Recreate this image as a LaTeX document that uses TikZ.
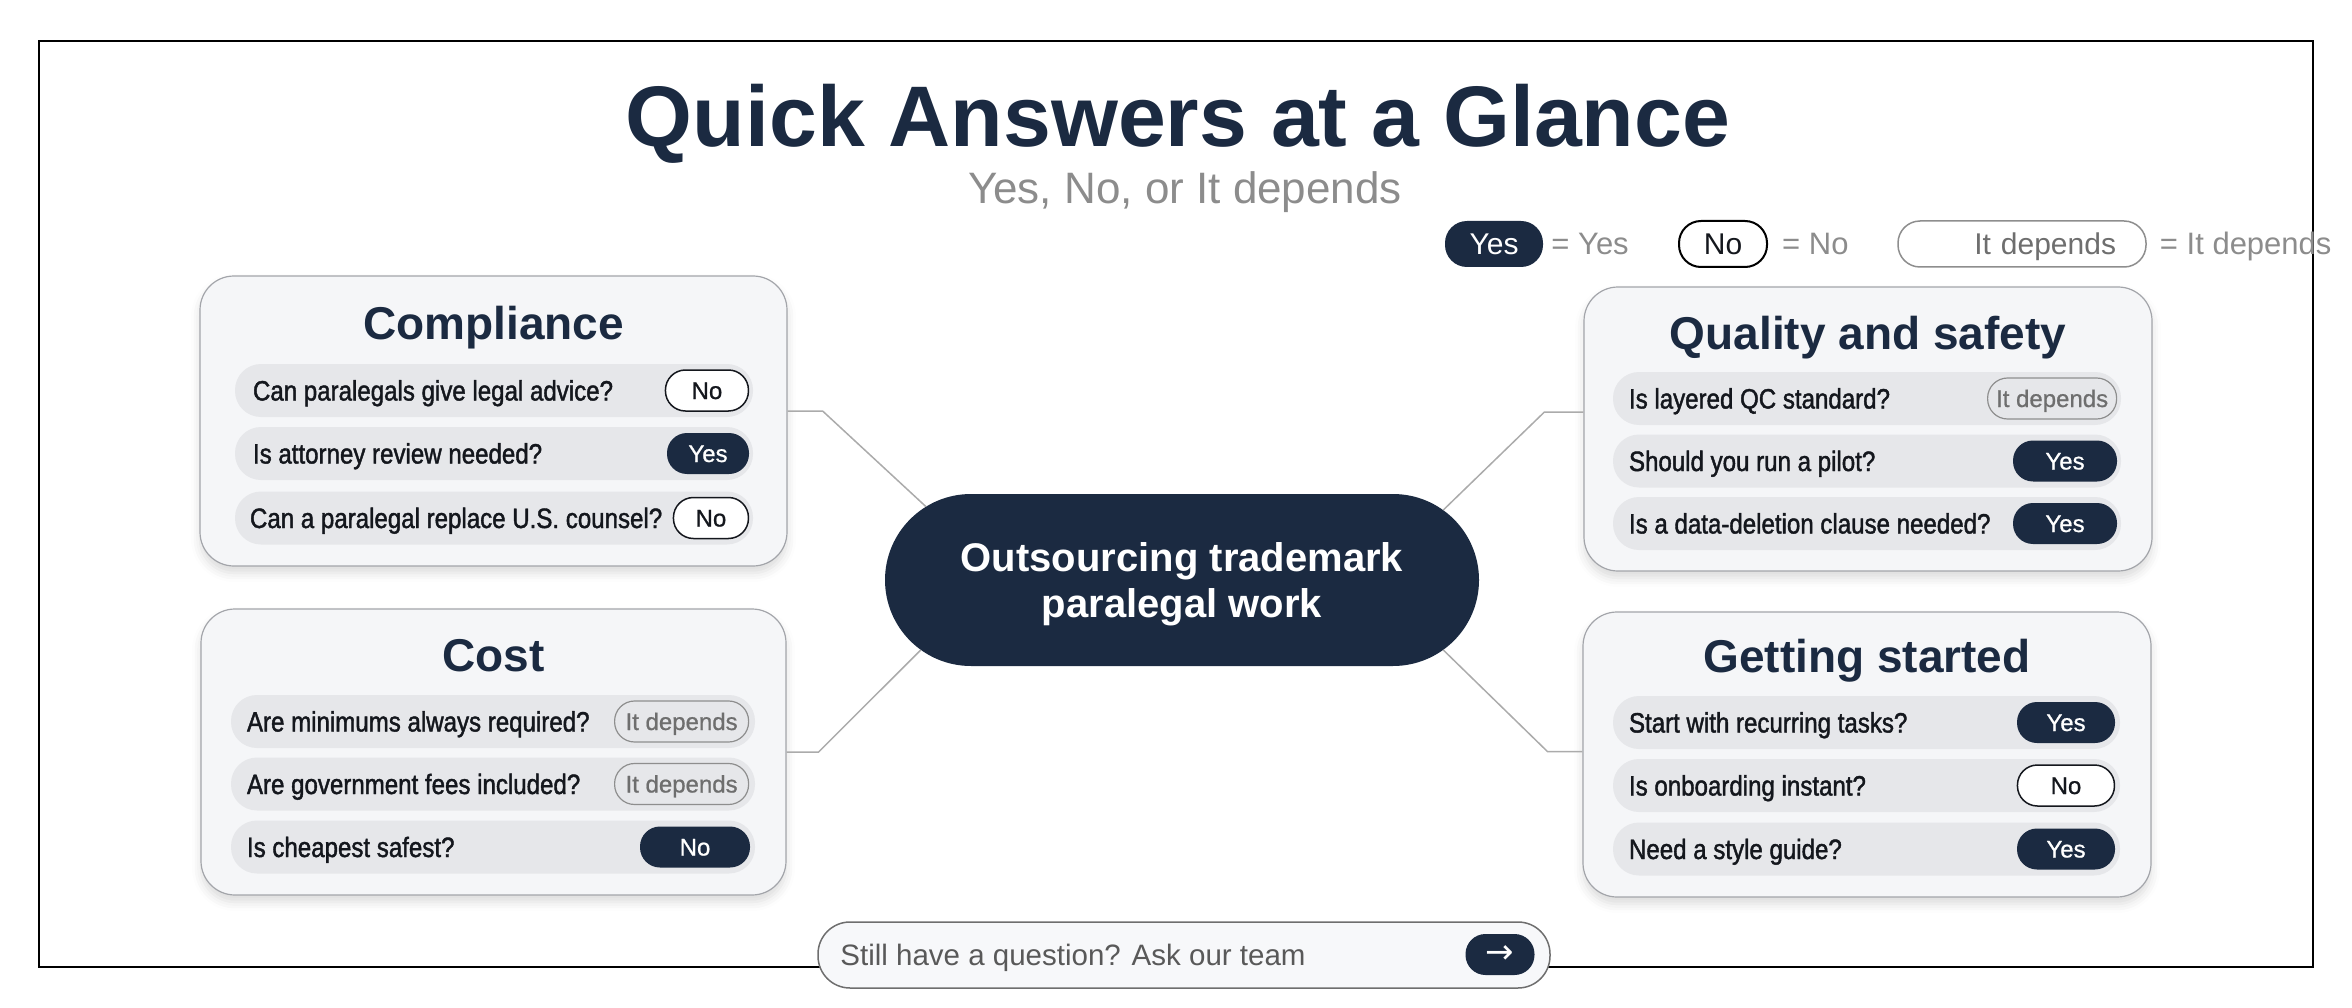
\documentclass[tikz,border=0pt]{standalone}
\usepackage{fontspec}
\setmainfont{Liberation Sans}
\newfontfamily\qfont{Liberation Sans}[FakeStretch=0.86,FakeBold=1.5]
\newfontfamily\afont{Liberation Sans}[FakeBold=0.8]
\newfontfamily\arrowfont{DejaVu Sans}
\usepackage{xcolor}
\definecolor{colNavy}{HTML}{1B2A41}
\definecolor{colCard}{HTML}{F5F6F8}
\definecolor{colCardLine}{HTML}{A3A5AA}
\definecolor{colRow}{HTML}{E6E7EA}
\definecolor{colGrayText}{HTML}{8C8C8C}
\definecolor{colDepText}{HTML}{6E6E6E}
\definecolor{colDepLine}{HTML}{8E8E8E}
\definecolor{colQText}{HTML}{14171D}
\definecolor{colLink}{HTML}{ABABAB}
\definecolor{colAsk}{HTML}{F7F8FA}
\definecolor{colAskText}{HTML}{595959}
\usepackage{tikz}
\usetikzlibrary{arrows.meta, positioning, calc, shapes.misc, shadows.blur}

\begin{document}
\begin{tikzpicture}[x=1pt, y=-1pt,
    card/.style={draw=colCardLine, line width=1.2pt, fill=colCard, rounded corners=34pt,
      blur shadow={shadow xshift=0pt, shadow yshift=-7pt, shadow blur radius=9pt, shadow opacity=14}},
    cardtitle/.style={font=\bfseries\fontsize{46}{50}\selectfont, text=colNavy, anchor=base, inner sep=0pt},
    row/.style={fill=colRow, rounded corners=26pt, minimum height=53pt, minimum width=#1, inner sep=0pt},
    question/.style={font=\qfont\fontsize{28}{30}\selectfont, text=colQText, anchor=base west, inner sep=0pt},
    answer/.style={rounded corners=20pt, minimum height=41pt, minimum width=#1, inner xsep=0pt,
      text height=17pt, text depth=0pt, anchor=east, font=\afont\fontsize{24}{26}\selectfont},
    ansyes/.style={answer=#1, fill=colNavy, text=white},
    ansno/.style={answer=#1, draw=colQText, line width=1.5pt, fill=white, text=colQText},
    ansnofill/.style={answer=#1, fill=colNavy, text=white},
    ansdep/.style={answer=#1, draw=colDepLine, line width=1.2pt, text=colDepText},
    legpill/.style={rounded corners=22pt, minimum height=46pt, inner xsep=0pt,
      text height=21pt, text depth=0pt, font=\fontsize{30}{32}\selectfont},
    legtext/.style={font=\fontsize{31}{33}\selectfont, text=colGrayText, anchor=base west, inner sep=0pt},
    link/.style={draw=colLink, line width=1.5pt},
    frame/.style={draw=black, line width=2pt}
  ]
  \useasboundingbox (0,0) rectangle (2352,1008);
  \draw[frame] (39,41) rectangle (2313,967);

  % heading and legend
  \node[font=\bfseries\fontsize{86}{90}\selectfont, text=colNavy, anchor=base, inner sep=0pt] (title) at (1178,147) {Quick Answers at a Glance};
  \node[font=\fontsize{44}{48}\selectfont, text=colGrayText, anchor=base, inner sep=0pt] (subtitle) at (1185,204) {Yes, No, or It depends};
  \node[legpill, fill=colNavy, text=white, minimum width=98pt] (leg-yes) at (1494,244) {Yes};
  \node[legtext] (leg-yes-t) at ([xshift=8pt,yshift=-11pt]leg-yes.east) {= Yes};
  \node[legpill, draw=black, line width=2pt, text=colQText, minimum width=88pt] (leg-no) at (1723,244) {No};
  \node[legtext] (leg-no-t) at ([xshift=14pt,yshift=-11pt]leg-no.east) {= No};
  \node[legpill, draw=colDepLine, line width=1.5pt, text=colDepText, inner xsep=30pt, text width=188pt, align=right] (leg-dep) at (2022,244) {It depends};
  \node[legtext] (leg-dep-t) at ([xshift=13pt,yshift=-11pt]leg-dep.east) {= It depends};

  % central topic
  \node[rounded rectangle, fill=colNavy, minimum width=594pt, minimum height=172pt, inner sep=0pt] (hub) at (1182,580) {};
  \node[font=\bfseries\fontsize{40}{46}\selectfont, text=white, align=center] (hub-t) at ([yshift=-4pt]hub.center) {Outsourcing trademark\\paralegal work};

  % cards
  \node[card, minimum width=587pt, minimum height=290pt] (comp) at (493.5,421) {};
  \node[card, minimum width=585pt, minimum height=286pt] (cost) at (493.5,752) {};
  \node[card, minimum width=568pt, minimum height=284pt] (qual) at (1868,429) {};
  \node[card, minimum width=568pt, minimum height=285pt] (start) at (1867,754.5) {};

  \draw[link] ([yshift=10pt]comp.east) -- ++(35,0) -- (hub.164);
  \draw[link] (cost.east) -- ++(32,0) -- (hub.195);
  \draw[link] ([yshift=17pt]qual.west) -- ++(-39,0) -- (hub.15);
  \draw[link] ([yshift=3pt]start.west) -- ++(-35,0) -- (hub.345);

  % Compliance
  \node[cardtitle] (comp-t) at ([yshift=-64pt]comp.north) {Compliance};
  \node[row=518pt] (comp-1) at (494,390.5) {};
  \node[row=518pt] (comp-2) at (494,453.5) {};
  \node[row=518pt] (comp-3) at (494,518) {};
  \node[question] (comp-1q) at ([xshift=18pt,yshift=-10pt]comp-1.west) {Can paralegals give legal advice?};
  \node[question] (comp-2q) at ([xshift=18pt,yshift=-10pt]comp-2.west) {Is attorney review needed?};
  \node[question] (comp-3q) at ([xshift=15pt,yshift=-10pt]comp-3.west) {Can a paralegal replace U.S. counsel?};
  \node[ansno=83pt] (comp-1a) at ([xshift=-4pt]comp-1.east) {No};
  \node[ansyes=82pt] (comp-2a) at ([xshift=-4pt]comp-2.east) {Yes};
  \node[ansno=75pt] (comp-3a) at ([xshift=-4pt]comp-3.east) {No};

  % Cost
  \node[cardtitle] (cost-t) at ([yshift=-63pt]cost.north) {Cost};
  \node[row=524pt] (cost-1) at (493,721.5) {};
  \node[row=524pt] (cost-2) at (493,784) {};
  \node[row=524pt] (cost-3) at (493,847) {};
  \node[question] (cost-1q) at ([xshift=16pt,yshift=-10pt]cost-1.west) {Are minimums always required?};
  \node[question] (cost-2q) at ([xshift=16pt,yshift=-10pt]cost-2.west) {Are government fees included?};
  \node[question] (cost-3q) at ([xshift=16pt,yshift=-10pt]cost-3.west) {Is cheapest safest?};
  \node[ansdep=134pt] (cost-1a) at ([xshift=-6pt]cost-1.east) {It depends};
  \node[ansdep=134pt] (cost-2a) at ([xshift=-6pt]cost-2.east) {It depends};
  \node[ansnofill=110pt] (cost-3a) at ([xshift=-5pt]cost-3.east) {No};

  % Quality and safety
  \node[cardtitle] (qual-t) at ([yshift=-63pt]qual.north) {Quality and safety};
  \node[row=508pt] (qual-1) at (1867,398.5) {};
  \node[row=508pt] (qual-2) at (1867,461) {};
  \node[row=508pt] (qual-3) at (1867,523.5) {};
  \node[question] (qual-1q) at ([xshift=16pt,yshift=-10pt]qual-1.west) {Is layered QC standard?};
  \node[question] (qual-2q) at ([xshift=16pt,yshift=-10pt]qual-2.west) {Should you run a pilot?};
  \node[question] (qual-3q) at ([xshift=16pt,yshift=-10pt]qual-3.west) {Is a data-deletion clause needed?};
  \node[ansdep=129pt] (qual-1a) at ([xshift=-4pt]qual-1.east) {It depends};
  \node[ansyes=104pt] (qual-2a) at ([xshift=-4pt]qual-2.east) {Yes};
  \node[ansyes=104pt] (qual-3a) at ([xshift=-4pt]qual-3.east) {Yes};

  % Getting started
  \node[cardtitle] (start-t) at ([yshift=-61pt]start.north) {Getting started};
  \node[row=507pt] (start-1) at (1866.5,722.5) {};
  \node[row=507pt] (start-2) at (1866.5,785.5) {};
  \node[row=507pt] (start-3) at (1866.5,849) {};
  \node[question] (start-1q) at ([xshift=16pt,yshift=-10pt]start-1.west) {Start with recurring tasks?};
  \node[question] (start-2q) at ([xshift=16pt,yshift=-10pt]start-2.west) {Is onboarding instant?};
  \node[question] (start-3q) at ([xshift=16pt,yshift=-10pt]start-3.west) {Need a style guide?};
  \node[ansyes=98pt] (start-1a) at ([xshift=-5pt]start-1.east) {Yes};
  \node[ansno=97pt] (start-2a) at ([xshift=-5pt]start-2.east) {No};
  \node[ansyes=98pt] (start-3a) at ([xshift=-5pt]start-3.east) {Yes};

  % ask bar
  \node[fill=colAsk, draw=colDepText, line width=1.5pt, rounded corners=32pt, minimum width=732pt, minimum height=66pt] (ask) at (1184,955) {};
  \node[font=\fontsize{29.5}{32}\selectfont, text=colAskText, anchor=base west, inner sep=0pt] (ask-t) at ([xshift=23pt,yshift=-10.5pt]ask.west) {Still have a question? Ask our team};
  \node[fill=colNavy, rounded corners=20pt, minimum width=69pt, minimum height=41pt, inner sep=0pt, text=white, font=\arrowfont\fontsize{34}{36}\selectfont] (ask-b) at (1500,954.5) {→};
\end{tikzpicture}
\end{document}
